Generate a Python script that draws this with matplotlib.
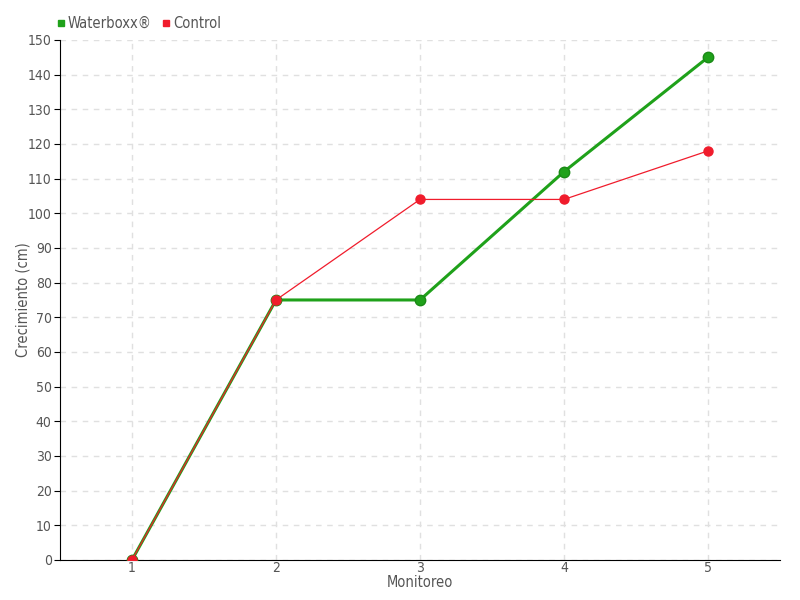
import matplotlib
matplotlib.use("Agg")
import matplotlib.pyplot as plt
from matplotlib.lines import Line2D

x = [1, 2, 3, 4, 5]
waterboxx = [0, 75, 75, 112, 145]
control = [0, 75, 104, 104, 118]
yticks = list(range(0, 151, 10))

plt.rcParams['font.family'] = ['DejaVu Sans']
plt.rcParams['font.stretch'] = 'condensed'
fig = plt.figure(figsize=(8, 6), dpi=100)
ax = fig.add_axes([0.075, 0.0667, 0.9, 0.8667])

green = '#1fa11a'
red = '#f01c2c'
ax.plot(x, waterboxx, color=green, lw=2.2, marker='o', ms=7.5, mfc=green, mec='#1a8a16', zorder=3)
ax.plot(x, control, color=red, lw=0.9, marker='o', ms=6.5, mfc=red, mec=red, zorder=4)

ax.set_xlim(0.5, 5.5)
ax.set_ylim(0, 150)
ax.set_yticks(yticks)
ax.set_xticks(x)
ax.grid(True, color='#e0e0e0', ls=(0, (4, 4)), lw=1)
ax.set_axisbelow(True)
for s in ['top', 'right']:
    ax.spines[s].set_visible(False)
for s in ['left', 'bottom']:
    ax.spines[s].set_color('black')
ax.tick_params(axis='y', length=4, colors='#555555', labelsize=10, pad=2)
ax.tick_params(axis='x', length=0, colors='#555555', labelsize=10, pad=1)
ax.tick_params(axis='both', color='black')
ax.set_xlabel('Monitoreo', color='#555555', fontsize=10.5)
ax.xaxis.set_label_coords(0.5, -0.028)
ax.set_ylabel('Crecimiento (cm)', color='#555555', fontsize=10.5)
ax.yaxis.set_label_coords(-0.041, 0.5)

handles = [Line2D([], [], marker='s', ls='', color=green, ms=5),
           Line2D([], [], marker='s', ls='', color=red, ms=5)]
fig.legend(handles, ['Waterboxx®', 'Control'], loc='upper left', bbox_to_anchor=(0.052, 0.995),
           ncol=2, frameon=False, fontsize=10.5, handletextpad=0.1, columnspacing=0.6,
           labelcolor='#555555', handlelength=0.8)

fig.savefig('out.png', dpi=100)
